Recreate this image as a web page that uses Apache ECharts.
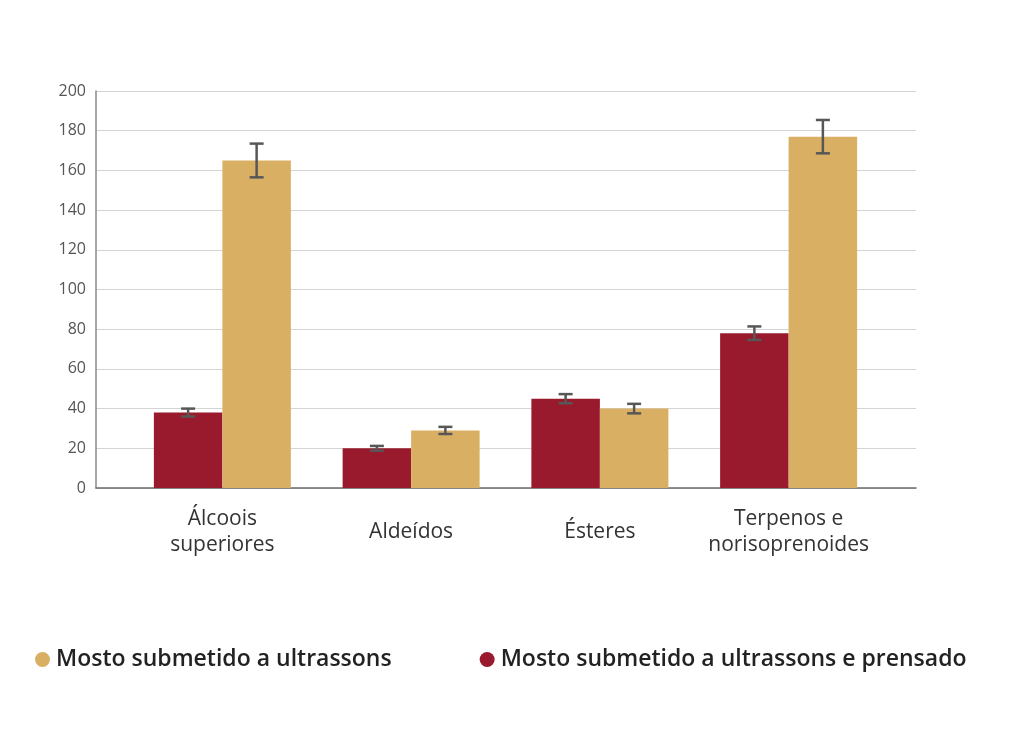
<!DOCTYPE html>
<html><head><meta charset="utf-8">
<script src="https://cdn.jsdelivr.net/npm/echarts@6/dist/echarts.min.js"></script>
<style>html,body{margin:0;padding:0;background:#fff}#c{width:1024px;height:748px}</style>
</head><body><div id="c"></div>
<script>
const categories = ['Álcoois\nsuperiores', 'Aldeídos', 'Ésteres', 'Terpenos e\nnorisoprenoides'];
const seriesNames = ['Mosto submetido a ultrassons e prensado', 'Mosto submetido a ultrassons'];
const pressedValues = [38, 20, 45, 78];
const pressedErrors = [2, 1.2, 2.3, 3.4];
const ultraValues = [165, 29, 40, 177];
const ultraErrors = [8.5, 1.8, 2.4, 8.4];
const yTicks = {min: 0, max: 200, interval: 20};

const RED = '#9A1A2D', GOLD = '#D9B063';
const FONT = '"Open Sans", "Noto Sans", sans-serif';

function errData(vals, errs) {
  return vals.map((v, i) => [i, v - errs[i], v + errs[i]]);
}
function errSeries(name, vals, errs, offset) {
  return {
    type: 'custom', name: name + ' err', xAxisIndex: 1, yAxisIndex: 1, z: 10,
    silent: true,
    data: errData(vals, errs),
    renderItem: function (params, api) {
      const i = api.value(0);
      const lo = api.coord([i, api.value(1)]);
      const hi = api.coord([i, api.value(2)]);
      const x = lo[0] + offset;
      const half = 7;
      const st = {stroke: '#575757', lineWidth: 2.5};
      return {type: 'group', children: [
        {type: 'line', shape: {x1: x, y1: lo[1], x2: x, y2: hi[1]}, style: st},
        {type: 'line', shape: {x1: x - half, y1: lo[1], x2: x + half, y2: lo[1]}, style: st},
        {type: 'line', shape: {x1: x - half, y1: hi[1], x2: x + half, y2: hi[1]}, style: st}
      ]};
    }
  };
}

const chart = echarts.init(document.getElementById('c'), null, {renderer: 'canvas'});
chart.setOption({
  animation: false,
  textStyle: {fontFamily: FONT},
  grid: [
    {left: 96, right: 108, top: 91, bottom: 260},
    {left: 128, right: 141, top: 91, bottom: 260}
  ],
  xAxis: [
    {gridIndex: 0, type: 'value', min: 0, max: 1, show: true,
     axisLine: {show: true, lineStyle: {color: '#6b6b6b', width: 1.5}},
     axisTick: {show: false}, axisLabel: {show: false}, splitLine: {show: false}},
    {gridIndex: 1, type: 'category', data: categories,
     axisLine: {show: false}, axisTick: {show: false},
     axisLabel: {interval: 0, color: '#333', fontSize: 21, lineHeight: 26, margin: 44,
                 verticalAlign: 'middle', fontFamily: FONT}}
  ],
  yAxis: [
    {gridIndex: 0, type: 'value', min: yTicks.min, max: yTicks.max, interval: yTicks.interval,
     axisLine: {show: true, lineStyle: {color: '#8a8a8a', width: 1.5}},
     axisTick: {show: false},
     axisLabel: {color: '#555', fontSize: 16, margin: 10, fontFamily: FONT},
     splitLine: {lineStyle: {color: '#d4d4d4', width: 1.2}}},
    {gridIndex: 1, type: 'value', min: yTicks.min, max: yTicks.max, interval: yTicks.interval,
     show: false, splitLine: {show: false}}
  ],
  legend: {
    data: [seriesNames[1], seriesNames[0]],
    left: 30, top: 643, icon: 'circle', itemWidth: 15, itemHeight: 15, itemGap: 88,
    textStyle: {fontSize: 23, color: '#222', fontFamily: FONT, fontWeight: 600, padding: [0, 0, 0, 1]}
  },
  series: [
    {type: 'bar', name: seriesNames[0], xAxisIndex: 1, yAxisIndex: 1, data: pressedValues,
     barWidth: 68.5, barGap: '0%', itemStyle: {color: RED}},
    {type: 'bar', name: seriesNames[1], xAxisIndex: 1, yAxisIndex: 1, data: ultraValues,
     barWidth: 68.5, barGap: '0%', itemStyle: {color: GOLD}},
    errSeries(seriesNames[0], pressedValues, pressedErrors, -34.25),
    errSeries(seriesNames[1], ultraValues, ultraErrors, 34.25)
  ]
});
</script></body></html>
